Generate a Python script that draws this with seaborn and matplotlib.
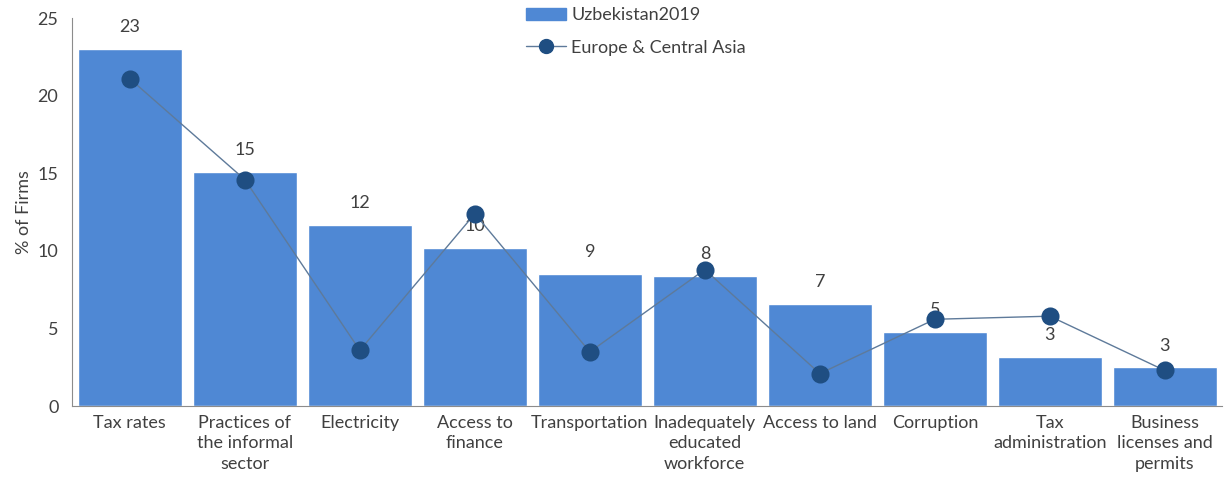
import matplotlib
matplotlib.use("Agg")
import matplotlib.pyplot as plt
import seaborn as sns
import pandas as pd
from matplotlib.patches import Patch
from matplotlib.lines import Line2D

categories = ["Tax rates", "Practices of\nthe informal\nsector", "Electricity",
              "Access to\nfinance", "Transportation", "Inadequately\neducated\nworkforce",
              "Access to land", "Corruption", "Tax\nadministration",
              "Business\nlicenses and\npermits"]
uzbekistan = [23.0, 15.1, 11.7, 10.2, 8.5, 8.4, 6.6, 4.8, 3.2, 2.5]
eca = [21.1, 14.6, 3.6, 12.4, 3.5, 8.8, 2.1, 5.6, 5.8, 2.3]
bar_labels = ["23", "15", "12", "10", "9", "8", "7", "5", "3", "3"]

sns.set_style("white")
plt.rcParams["font.family"] = ["Lato", "DejaVu Sans"]

df = pd.DataFrame({"cat": categories, "uzb": uzbekistan, "eca": eca})

fig = plt.figure(figsize=(12.26, 4.79), dpi=100)
ax = fig.add_axes([0.059, 0.152, 0.938, 0.81])

sns.barplot(data=df, x="cat", y="uzb", color="#4F88D4", saturation=1, width=0.9,
            ax=ax, label="Uzbekistan2019")
ax.bar_label(ax.containers[0], labels=bar_labels, padding=10, fontsize=13, color="#404040")

ax.plot(range(len(categories)), eca, color="#5E7A9A", linewidth=1, zorder=3)
sns.pointplot(data=df, x="cat", y="eca", color="#1F4E82", linestyle="none",
              markersize=11, ax=ax, zorder=4)

handles = [Patch(color="#4F88D4"),
           Line2D([0], [0], color="#5E7A9A", linewidth=1, marker="o",
                  markerfacecolor="#1F4E82", markeredgecolor="#1F4E82", markersize=10)]
ax.legend(handles, ["Uzbekistan2019", "Europe & Central Asia"], loc="upper center",
          bbox_to_anchor=(0.49, 1.07), frameon=False, fontsize=13, handlelength=2.2,
          handletextpad=0.3, labelspacing=0.9, labelcolor="#404040")

ax.set_ylim(0, 25)
ax.set_xlim(-0.5, 9.5)
ax.set_yticks([0, 5, 10, 15, 20, 25])
ax.set_xlabel("")
ax.set_ylabel("% of Firms", fontsize=13, color="#404040")
ax.tick_params(axis="both", labelsize=13, labelcolor="#404040", length=0)
ax.tick_params(axis="x", pad=6)
ax.tick_params(axis="y", pad=10)
for t in ax.get_xticklabels():
    t.set_linespacing(1.35)
sns.despine(ax=ax)
for s in ["left", "bottom"]:
    ax.spines[s].set_color("#8c8c8c")

fig.savefig("out.png", dpi=100)
